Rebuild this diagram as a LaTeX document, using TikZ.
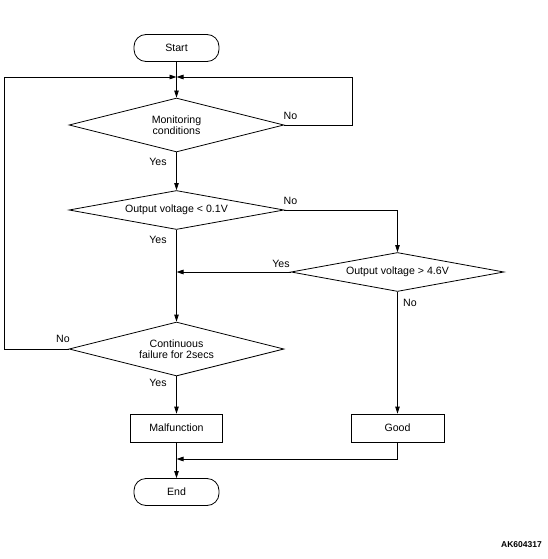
\documentclass[tikz,border=0pt]{standalone}
\usepackage{fontspec}
\setmainfont{Liberation Sans}
\usetikzlibrary{shapes.geometric,arrows.meta}
\begin{document}
\begin{tikzpicture}[x=1pt,y=-1pt,
  every node/.style={font=\fontsize{10.6}{11.5}\selectfont},
  line/.style={line width=0.8pt},
  arr/.style={line width=0.8pt,-{Triangle[length=7pt,width=4.5pt]}},
  term/.style={draw,line width=0.8pt,rounded corners=12pt,minimum width=85pt,minimum height=27pt,inner sep=0pt},
  dec/.style={draw,line width=0.8pt,diamond,aspect=6,inner sep=0pt,align=center},
  proc/.style={draw,line width=0.8pt,minimum width=92pt,minimum height=28pt,inner sep=0pt},
  lbl/.style={inner sep=0pt}
]
\useasboundingbox (0,0) rectangle (548,559);
\node[term] (start) at (176.5,48) {Start};
\node[dec,minimum width=215pt,minimum height=54pt] (d1) at (176.5,125) {Monitoring\\conditions};
\node[dec,minimum width=215pt,minimum height=39pt] (d2) at (176.5,210) {Output voltage < 0.1V};
\node[dec,minimum width=213pt,minimum height=39pt] (d3) at (397.5,272) {Output voltage > 4.6V};
\node[dec,minimum width=215pt,minimum height=54pt] (d4) at (176.5,349) {Continuous\\failure for 2secs};
\node[proc] (malf) at (176.5,428) {Malfunction};
\node[proc,minimum width=93pt] (good) at (397.5,428) {Good};
\node[term] (end) at (176.5,492) {End};

\coordinate (j1) at (176.5,77);
\coordinate (j2) at (176.5,272);
\coordinate (j3) at (176.5,459);
\coordinate (rloop) at (352,125);
\coordinate (lloop) at (4,349);

\draw[line] (start.south) -- (j1);
\draw[arr] (j1) -- (d1.north);
\draw[arr] (d1.east) -- (rloop) |- (j1);
\draw[arr] (d4.west) -- (lloop) |- (j1);
\draw[arr] (d1.south) -- (d2.north);
\draw[arr] (d2.east) -| (d3.north);
\draw[arr] (d2.south) -- (d4.north);
\draw[arr] (d3.west) -- (j2);
\draw[arr] (d3.south) -- (good.north);
\draw[arr] (d4.south) -- (malf.north);
\draw[arr] (malf.south) -- (end.north);
\draw[arr] (good.south) |- (j3);

\node[lbl] (l1) at (290.5,116) {No};
\node[lbl] (l2) at (158,162) {Yes};
\node[lbl] (l3) at (290.5,201) {No};
\node[lbl] (l4) at (158,240) {Yes};
\node[lbl] (l5) at (281,264) {Yes};
\node[lbl] (l6) at (410,303) {No};
\node[lbl] (l7) at (63,339) {No};
\node[lbl] (l8) at (158,383) {Yes};
\node[lbl,font=\fontsize{8.5}{10}\selectfont\bfseries,anchor=east] (code) at (542,545) {AK604317};
\end{tikzpicture}
\end{document}
